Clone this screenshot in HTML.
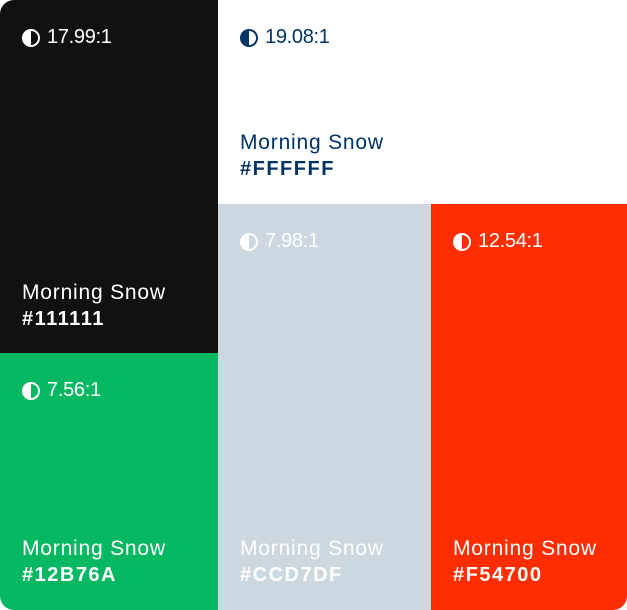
<!DOCTYPE html>
<html><head><meta charset="utf-8"><style>
body{margin:0;width:627px;height:610px;background:#fff;font-family:"Liberation Sans",sans-serif;overflow:hidden}
.wrap{position:relative;width:627px;height:610px;border-radius:14px;overflow:hidden}
.c{position:absolute}
.r{position:absolute;top:26px;left:22px;font-size:20px;display:flex;align-items:center;gap:7px;letter-spacing:-0.3px}
.i{width:14px;height:14px;border-radius:50%;border:2px solid currentColor;background:linear-gradient(90deg,currentColor 50%,transparent 50%)}
.n{position:absolute;left:22px;font-size:21px;letter-spacing:0.8px}
.h{position:absolute;left:22px;font-size:20px;font-weight:bold;letter-spacing:1.5px}
</style></head><body>
<div class="wrap">
<div class="c" style="left:0;top:0;width:218px;height:353px;background:#111111;color:#fff">
<div class="r"><span class="i"></span>17.99:1</div>
<div class="n" style="top:281px">Morning Snow</div>
<div class="h" style="top:308px">#111111</div></div>
<div class="c" style="left:218px;top:0;width:409px;height:204px;background:#fff;color:#003366">
<div class="r"><span class="i"></span>19.08:1</div>
<div class="n" style="top:131px">Morning Snow</div>
<div class="h" style="top:158px">#FFFFFF</div></div>
<div class="c" style="left:0;top:353px;width:218px;height:257px;background:#07B862;color:#fff">
<div class="r"><span class="i"></span>7.56:1</div>
<div class="n" style="top:184px">Morning Snow</div>
<div class="h" style="top:211px">#12B76A</div></div>
<div class="c" style="left:218px;top:204px;width:213px;height:406px;background:#CCD7DF;color:#fff">
<div class="r"><span class="i"></span>7.98:1</div>
<div class="n" style="top:333px">Morning Snow</div>
<div class="h" style="top:360px">#CCD7DF</div></div>
<div class="c" style="left:431px;top:204px;width:196px;height:406px;background:#FF2D00;color:#fff">
<div class="r"><span class="i"></span>12.54:1</div>
<div class="n" style="top:333px">Morning Snow</div>
<div class="h" style="top:360px">#F54700</div></div>
</div>
</body></html>
